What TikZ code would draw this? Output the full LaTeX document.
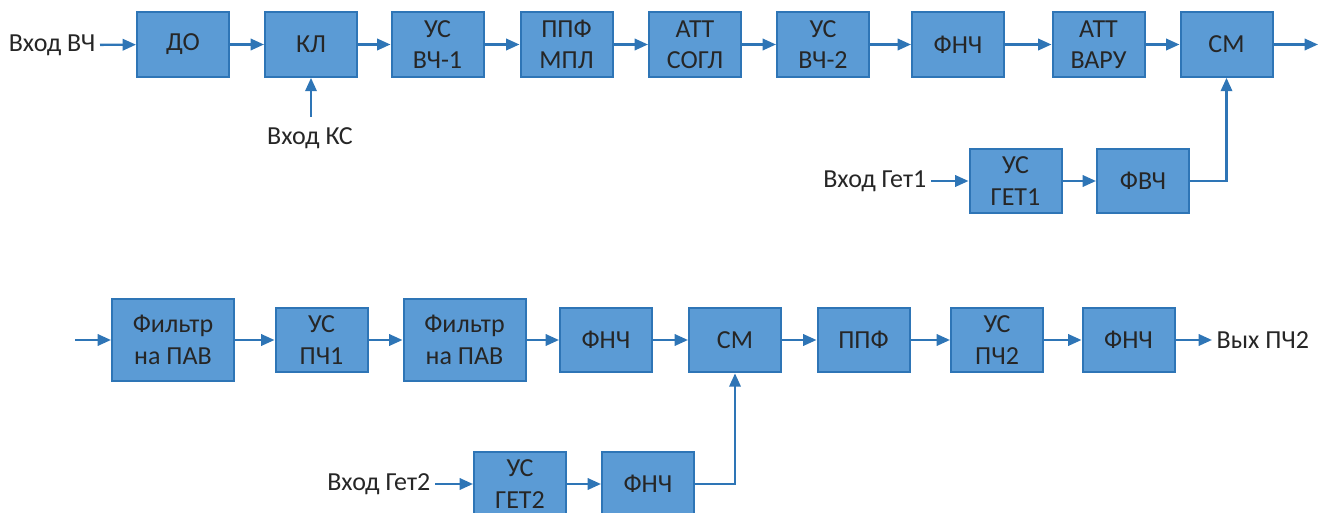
\documentclass[tikz,border=0pt]{standalone}
\usepackage{fontspec}
\setmainfont{Carlito}
\usetikzlibrary{arrows.meta}
\definecolor{boxblue}{RGB}{91,155,213}
\definecolor{edgeblue}{RGB}{46,117,182}
\begin{document}
\begin{tikzpicture}[x=0.75pt,y=-0.75pt,>={Triangle[length=10pt,width=8.5pt]},
  every node/.style={font=\fontsize{19.5}{23.5}\selectfont,text=black!85}]
  \useasboundingbox (0,0) rectangle (1326,513);
  \tikzstyle{b}=[draw=edgeblue,fill=boxblue,line width=1.5pt,minimum width=69pt,minimum height=48.5pt,inner sep=0pt,align=center]
  \tikzstyle{w}=[b,minimum width=91.5pt,minimum height=61pt]
  \tikzstyle{l}=[->,edgeblue,line width=1.8pt]
  % top chain
  \node[anchor=east] (vch) at (100,45) {Вход ВЧ};
  \node[b] (do) at (183,44.5) {ДО};
  \node[b] (kl) at (311,44.5) {КЛ};
  \node[b] (usvch1) at (437.5,44.5) {УС\\ВЧ-1};
  \node[b] (ppf1) at (566.5,44.5) {ППФ\\МПЛ};
  \node[b] (attsogl) at (695,44.5) {АТТ\\СОГЛ};
  \node[b] (usvch2) at (823,44.5) {УС\\ВЧ-2};
  \node[b] (fnch1) at (958,44.5) {ФНЧ};
  \node[b] (attvaru) at (1098.5,44.5) {АТТ\\ВАРУ};
  \node[b] (sm1) at (1226.5,44.5) {СМ};
  \coordinate (o1) at (1318,44.5);
  \coordinate (ks) at (311,117);
  \node (tks) at (310,138) {Вход КС};
  \draw[l] (vch) -- (do); \draw[l] (do) -- (kl); \draw[l] (kl) -- (usvch1);
  \draw[l] (usvch1) -- (ppf1); \draw[l] (ppf1) -- (attsogl); \draw[l] (attsogl) -- (usvch2);
  \draw[l] (usvch2) -- (fnch1); \draw[l] (fnch1) -- (attvaru); \draw[l] (attvaru) -- (sm1);
  \draw[l] (sm1) -- (o1); \draw[l] (ks) -- (kl);
  % heterodyne 1
  \node[anchor=east] (tg1) at (931,181) {Вход Гет1};
  \node[b] (usget1) at (1015.5,181) {УС\\ГЕТ1};
  \node[b] (fvch) at (1143,181) {ФВЧ};
  \draw[l] (tg1) -- (usget1); \draw[l] (usget1) -- (fvch);
  \draw[l] (fvch) -| (sm1);
  % IF chain
  \coordinate (i2) at (75,340);
  \node[w] (filt1) at (173,340) {Фильтр\\на ПАВ};
  \node[b] (uspch1) at (321.5,340) {УС\\ПЧ1};
  \node[w] (filt2) at (464.5,340) {Фильтр\\на ПАВ};
  \node[b] (fnch2) at (606,340) {ФНЧ};
  \node[b] (sm2) at (735,340) {СМ};
  \node[b] (ppf2) at (863.5,340) {ППФ};
  \node[b] (uspch2) at (997,340) {УС\\ПЧ2};
  \node[b] (fnch3) at (1128.5,340) {ФНЧ};
  \node[anchor=west] (out) at (1212,340) {Вых ПЧ2};
  \draw[l] (i2) -- (filt1); \draw[l] (filt1) -- (uspch1); \draw[l] (uspch1) -- (filt2);
  \draw[l] (filt2) -- (fnch2); \draw[l] (fnch2) -- (sm2); \draw[l] (sm2) -- (ppf2);
  \draw[l] (ppf2) -- (uspch2); \draw[l] (uspch2) -- (fnch3); \draw[l] (fnch3) -- (out);
  % heterodyne 2
  \node[anchor=east] (tg2) at (435,484) {Вход Гет2};
  \node[b] (usget2) at (520,484) {УС\\ГЕТ2};
  \node[b] (fnch4) at (648,484) {ФНЧ};
  \draw[l] (tg2) -- (usget2); \draw[l] (usget2) -- (fnch4);
  \draw[l] (fnch4) -| (sm2);
\end{tikzpicture}
\end{document}
